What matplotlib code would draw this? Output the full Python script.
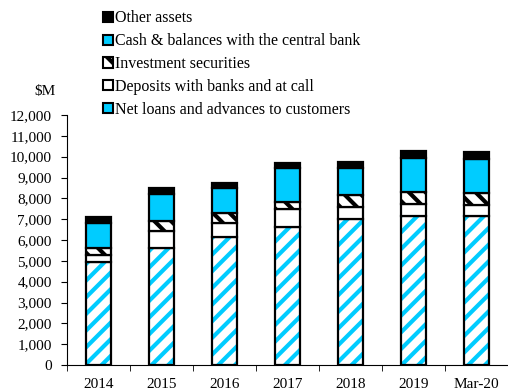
import numpy as np
import matplotlib.pyplot as plt
from matplotlib.ticker import FuncFormatter
from matplotlib.patches import Patch

plt.rcParams['font.family'] = ['Liberation Serif', 'DejaVu Serif']
plt.rcParams['hatch.linewidth'] = 3.0

years = ['2014', '2015', '2016', '2017', '2018', '2019', 'Mar-20']
loans = [4960, 5630, 6160, 6640, 6990, 7150, 7150]
deposits = [320, 800, 670, 850, 580, 580, 530]
investments = [320, 480, 450, 350, 590, 590, 590]
cash = [1230, 1290, 1220, 1600, 1280, 1600, 1600]
other = [290, 290, 250, 270, 320, 350, 340]

labels = ['Net loans and advances to customers', 'Deposits with banks and at call',
          'Investment securities', 'Cash & balances with the central bank', 'Other assets']
cyan = '#00CCFF'

fig = plt.figure(figsize=(5.08, 3.92), dpi=100)
ax = fig.add_axes([67/508, 27/392, 441/508, 250/392])

x = np.arange(len(years))
w = 0.41
lw = 1.6
bottom = np.zeros(len(years))

# hatched cyan stripes, then black outline on top
ax.bar(x, loans, w, bottom=bottom, color='white', edgecolor=cyan, hatch='//', linewidth=0)
ax.bar(x, loans, w, bottom=bottom, fill=False, edgecolor='black', linewidth=lw)
bottom += loans
ax.bar(x, deposits, w, bottom=bottom, color='white', edgecolor='black', linewidth=lw)
bottom += deposits
ax.bar(x, investments, w, bottom=bottom, color='white', edgecolor='black', hatch='\\\\', linewidth=lw)
bottom += investments
ax.bar(x, cash, w, bottom=bottom, color=cyan, edgecolor='black', linewidth=lw)
bottom += cash
ax.bar(x, other, w, bottom=bottom, color='black', edgecolor='black', linewidth=lw)

# legend handles
hl = 1.5
handles = [
    Patch(facecolor='black', edgecolor='black', linewidth=hl),
    Patch(facecolor=cyan, edgecolor='black', linewidth=hl),
    Patch(facecolor='white', edgecolor='black', hatch='\\\\', linewidth=hl),
    Patch(facecolor='white', edgecolor='black', linewidth=hl),
    Patch(facecolor=cyan, edgecolor='black', linewidth=hl),
]
fig.legend(handles, labels[::-1], loc='upper left', bbox_to_anchor=(93/508, 1.0),
           frameon=False, fontsize=11.5, handlelength=0.6, handleheight=0.6,
           handletextpad=0.15, labelspacing=0.43, borderpad=0.15)

ax.set_xlim(-0.5, len(years) - 0.5)
ax.set_ylim(0, 12000)
ax.set_yticks(np.arange(0, 12001, 1000))
ax.yaxis.set_major_formatter(FuncFormatter(lambda v, p: f'{int(v):,}'))
ax.set_xticks(x)
ax.set_xticklabels(years)
ax.set_xticks(np.arange(-0.5, len(years), 1), minor=True)
ax.tick_params(axis='x', which='major', length=0, pad=9, labelsize=11)
ax.tick_params(axis='x', which='minor', length=4, direction='out')
ax.tick_params(axis='y', length=4, direction='out', labelsize=11, pad=7)
for s in ['top', 'right']:
    ax.spines[s].set_visible(False)
ax.spines['left'].set_linewidth(0.8)
ax.spines['bottom'].set_linewidth(0.8)

fig.text(45/508, 1 - 91/392, '$M', ha='center', va='center', fontsize=11)

fig.savefig('out.png', dpi=100)
